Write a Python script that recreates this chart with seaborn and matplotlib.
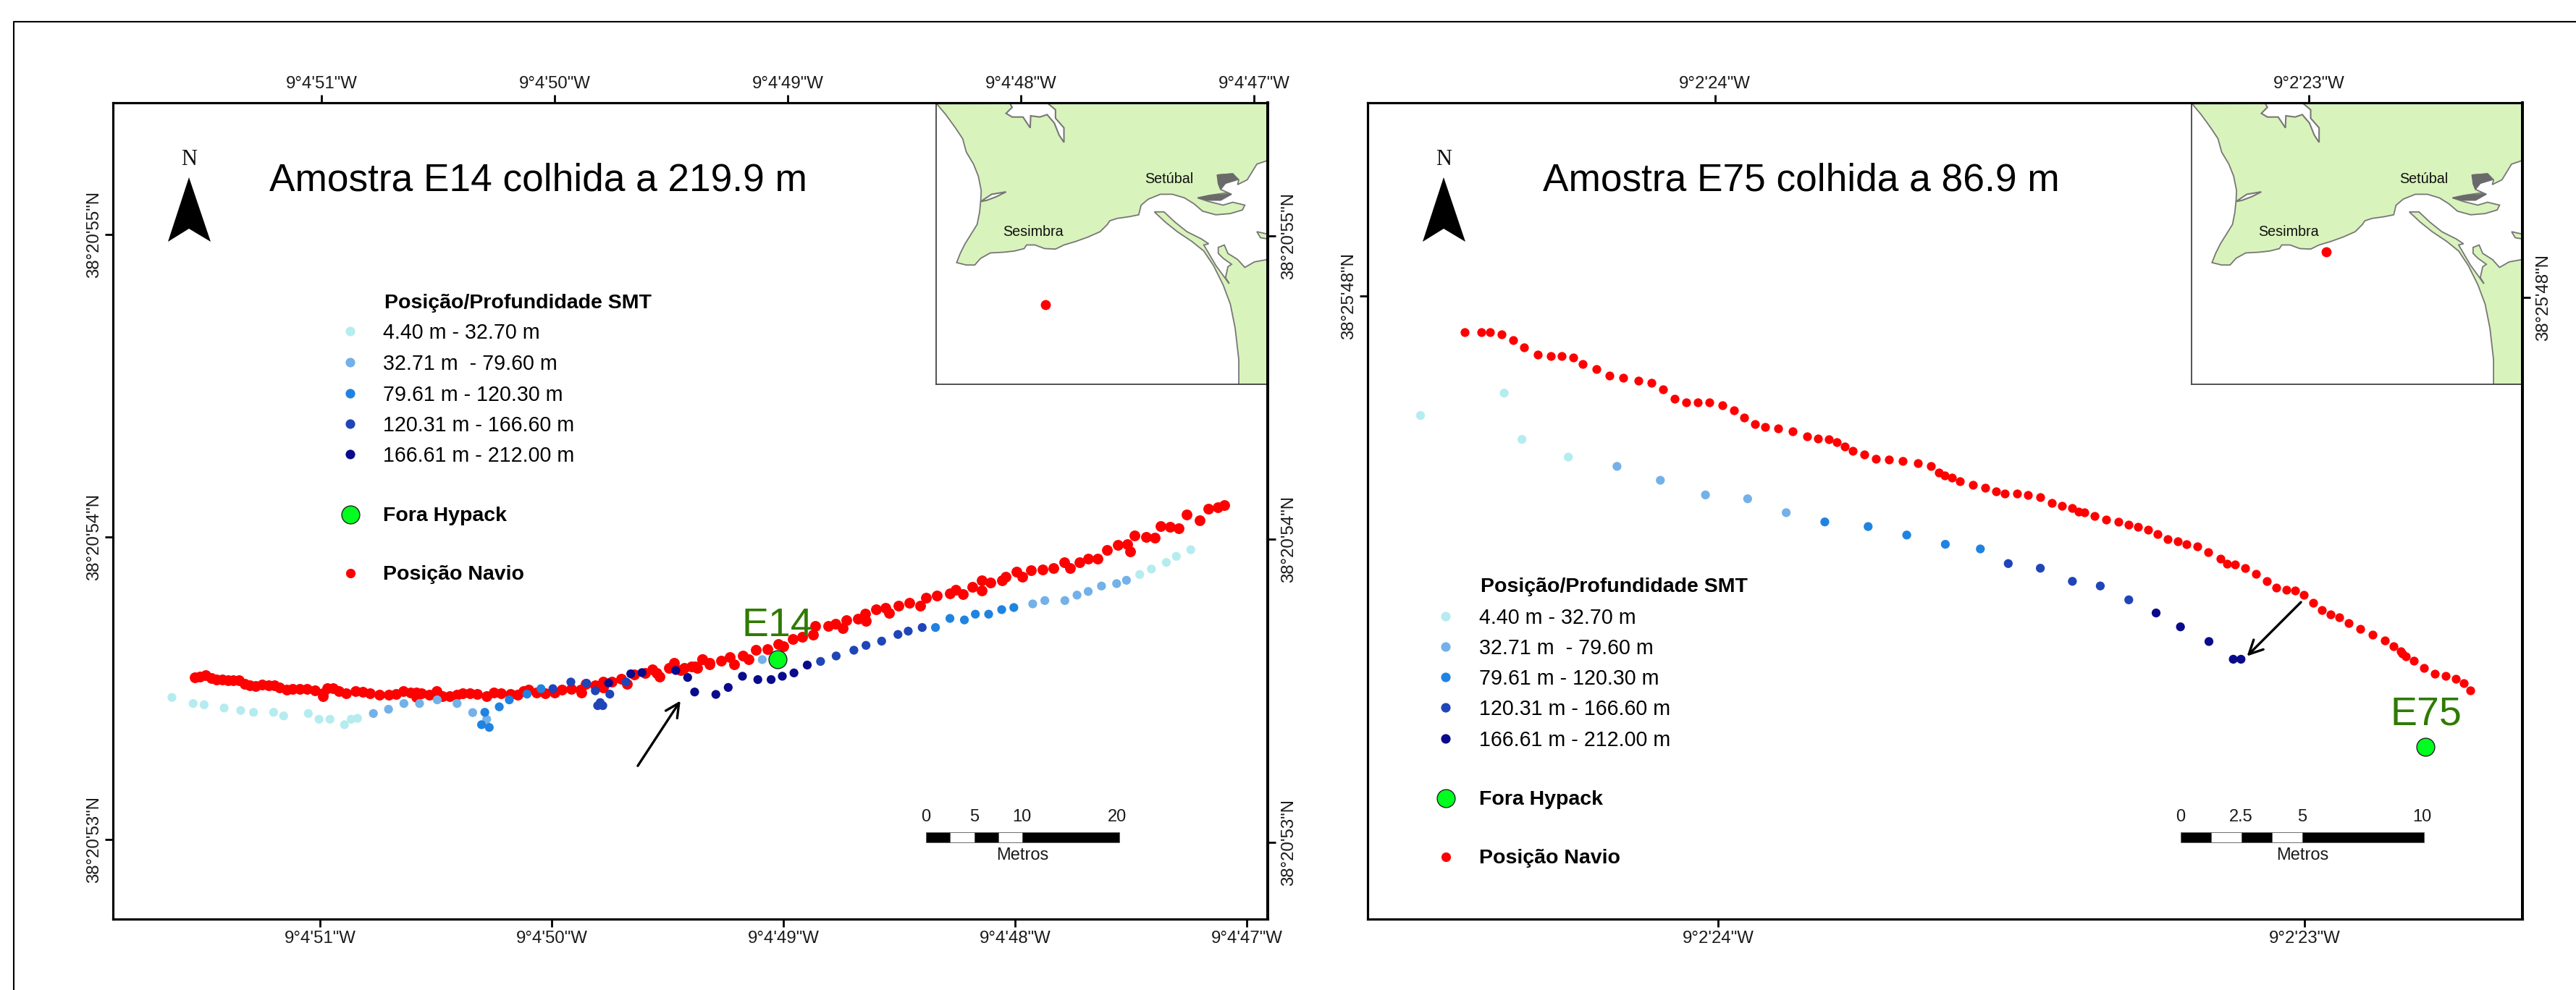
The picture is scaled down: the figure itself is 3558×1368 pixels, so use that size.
# -*- coding: utf-8 -*-
import pandas as pd
import seaborn as sns
import matplotlib.pyplot as plt
from matplotlib.patches import Polygon

W, H = 3558, 1368

# longitudes / latitudes are the seconds of arc inside 9d4'W, 38d20'N (E14) and 9d2'W, 38d25'N (E75)
e14_navio_lon = [51.544, 51.520, 51.497, 51.473, 51.449, 51.425, 51.401, 51.378, 51.354, 51.330, 51.306, 51.283,
                 51.254, 51.227, 51.203, 51.180, 51.148, 51.124, 51.093, 51.061, 51.029, 50.994, 50.993, 50.974,
                 50.950, 50.926, 50.894, 50.855, 50.823, 50.791, 50.752, 50.712, 50.681, 50.649, 50.617, 50.593,
                 50.593, 50.570, 50.538, 50.506, 50.482, 50.451, 50.419, 50.395, 50.364, 50.332, 50.292, 50.261,
                 50.229, 50.189, 50.158, 50.134, 50.110, 50.078, 50.039, 49.999, 49.968, 49.928, 49.888, 49.885,
                 49.865, 49.825, 49.793, 49.793, 49.754, 49.714, 49.690, 49.659, 49.611, 49.579, 49.563, 49.548,
                 49.508, 49.487, 49.460, 49.445, 49.397, 49.365, 49.334, 49.413, 49.389, 49.366, 49.334, 49.286,
                 49.247, 49.231, 49.191, 49.168, 49.136, 49.088, 49.041, 49.017, 48.977, 48.938, 48.890, 48.882,
                 48.827, 48.795, 48.764, 48.748, 48.700, 48.668, 48.664, 48.621, 48.581, 48.565, 48.526, 48.478,
                 48.431, 48.407, 48.359, 48.304, 48.280, 48.249, 48.209, 48.169, 48.169, 48.130, 48.082, 48.066,
                 48.019, 47.995, 47.955, 47.908, 47.860, 47.813, 47.789, 47.749, 47.710, 47.670, 47.631, 47.583,
                 47.543, 47.532, 47.512, 47.464, 47.425, 47.401, 47.361, 47.322, 47.290, 47.234, 47.195, 47.155,
                 47.128]
e14_navio_lat = [53.537, 53.538, 53.543, 53.533, 53.530, 53.530, 53.527, 53.527, 53.527, 53.514, 53.509, 53.508,
                 53.513, 53.509, 53.509, 53.503, 53.495, 53.499, 53.498, 53.499, 53.493, 53.483, 53.475, 53.501,
                 53.501, 53.491, 53.483, 53.491, 53.489, 53.483, 53.479, 53.479, 53.481, 53.491, 53.487, 53.487,
                 53.471, 53.483, 53.479, 53.491, 53.475, 53.473, 53.479, 53.483, 53.483, 53.481, 53.475, 53.487,
                 53.483, 53.481, 53.479, 53.491, 53.495, 53.486, 53.483, 53.486, 53.495, 53.499, 53.495, 53.487,
                 53.515, 53.511, 53.523, 53.503, 53.523, 53.531, 53.515, 53.547, 53.551, 53.563, 53.551, 53.539,
                 53.567, 53.584, 53.559, 53.567, 53.571, 53.595, 53.583, 53.571, 53.567, 53.595, 53.579, 53.591,
                 53.603, 53.579, 53.607, 53.595, 53.626, 53.630, 53.646, 53.638, 53.662, 53.670, 53.678, 53.706,
                 53.706, 53.714, 53.698, 53.726, 53.730, 53.746, 53.722, 53.760, 53.766, 53.750, 53.774, 53.783,
                 53.774, 53.798, 53.806, 53.814, 53.826, 53.810, 53.834, 53.857, 53.822, 53.850, 53.857, 53.869,
                 53.885, 53.869, 53.889, 53.893, 53.897, 53.917, 53.897, 53.917, 53.929, 53.929, 53.957, 53.973,
                 53.977, 53.953, 54.005, 54.001, 53.997, 54.037, 54.033, 54.029, 54.073, 54.054, 54.092, 54.099,
                 54.104]

e14_c0_lon = [51.641, 51.550, 51.503, 51.417, 51.346, 51.291, 51.205, 51.162, 51.056, 51.010, 50.963, 50.901,
              50.872, 50.845, 47.490, 47.440, 47.376, 47.333, 47.271]
e14_c0_lat = [53.470, 53.450, 53.446, 53.435, 53.427, 53.421, 53.421, 53.409, 53.417, 53.398, 53.398, 53.380,
              53.398, 53.401, 53.876, 53.894, 53.916, 53.936, 53.958]
e14_c1_lon = [50.777, 50.712, 50.646, 50.579, 50.503, 50.418, 50.351, 50.291, 49.109, 47.949, 47.897, 47.811,
              47.759, 47.711, 47.654, 47.589, 47.547]
e14_c1_lat = [53.417, 53.431, 53.450, 53.450, 53.462, 53.450, 53.420, 53.398, 53.595, 53.779, 53.790, 53.790,
              53.808, 53.820, 53.838, 53.846, 53.857]
e14_c2_lon = [50.299, 50.313, 50.280, 50.237, 50.194, 50.118, 50.058, 48.366, 48.304, 48.242, 48.195, 48.138,
              48.082, 48.030]
e14_c2_lat = [53.421, 53.380, 53.371, 53.439, 53.462, 53.481, 53.499, 53.701, 53.731, 53.726, 53.745, 53.745,
              53.760, 53.767]
e14_c3_lon = [50.007, 49.930, 49.863, 49.825, 49.763, 49.815, 49.793, 49.804, 49.693, 48.859, 48.792, 48.716,
              48.664, 48.597, 48.527, 48.483, 48.423]
e14_c3_lat = [53.499, 53.521, 53.517, 53.492, 53.481, 53.443, 53.443, 53.453, 53.521, 53.589, 53.607, 53.626,
              53.642, 53.656, 53.678, 53.689, 53.701]
e14_c4_lon = [49.768, 49.673, 49.625, 49.480, 49.429, 49.399, 49.308, 49.255, 49.194, 49.128, 49.071, 49.023,
              48.973, 48.916]
e14_c4_lat = [53.518, 53.548, 53.552, 53.559, 53.536, 53.488, 53.480, 53.503, 53.540, 53.529, 53.529, 53.540,
              53.551, 53.577]
e14_amostra = (49.044, 53.595)

e75_navio_lon = [24.421, 24.393, 24.379, 24.359, 24.340, 24.321, 24.299, 24.277, 24.258, 24.239, 24.223, 24.200,
                 24.178, 24.154, 24.129, 24.107, 24.088, 24.068, 24.049, 24.029, 24.009, 23.988, 23.968, 23.951,
                 23.933, 23.915, 23.893, 23.869, 23.845, 23.826, 23.808, 23.795, 23.782, 23.768, 23.749, 23.729,
                 23.707, 23.684, 23.658, 23.636, 23.623, 23.613, 23.601, 23.587, 23.566, 23.545, 23.527, 23.512,
                 23.491, 23.473, 23.452, 23.433, 23.415, 23.398, 23.387, 23.378, 23.361, 23.341, 23.320, 23.303,
                 23.287, 23.270, 23.254, 23.238, 23.221, 23.206, 23.188, 23.169, 23.149, 23.138, 23.124, 23.107,
                 23.089, 23.071, 23.054, 23.037, 23.023, 23.008, 22.993, 22.978, 22.963, 22.948, 22.933, 22.913,
                 22.892, 22.872, 22.857, 22.845, 22.842, 22.836, 22.823, 22.806, 22.788, 22.769, 22.752, 22.739,
                 22.728]
e75_navio_lat = [47.955, 47.955, 47.955, 47.952, 47.945, 47.935, 47.926, 47.924, 47.924, 47.922, 47.914, 47.907,
                 47.899, 47.896, 47.892, 47.889, 47.881, 47.869, 47.864, 47.864, 47.864, 47.860, 47.854, 47.844,
                 47.836, 47.832, 47.830, 47.826, 47.820, 47.817, 47.816, 47.812, 47.807, 47.801, 47.796, 47.791,
                 47.790, 47.788, 47.785, 47.781, 47.773, 47.769, 47.766, 47.762, 47.757, 47.753, 47.749, 47.746,
                 47.746, 47.744, 47.741, 47.734, 47.730, 47.727, 47.722, 47.721, 47.717, 47.712, 47.709, 47.705,
                 47.703, 47.699, 47.693, 47.687, 47.684, 47.680, 47.677, 47.670, 47.661, 47.655, 47.654, 47.649,
                 47.642, 47.632, 47.624, 47.621, 47.620, 47.614, 47.604, 47.595, 47.589, 47.585, 47.578, 47.570,
                 47.563, 47.555, 47.548, 47.541, 47.538, 47.535, 47.529, 47.520, 47.512, 47.509, 47.506, 47.500,
                 47.491]

e75_c0_lon = [24.496, 24.355, 24.325, 24.247]
e75_c0_lat = [47.847, 47.876, 47.816, 47.793]
e75_c1_lon = [24.165, 24.092, 24.016, 23.945, 23.880]
e75_c1_lat = [47.781, 47.763, 47.744, 47.739, 47.721]
e75_c2_lon = [23.815, 23.742, 23.677, 23.612, 23.553]
e75_c2_lat = [47.709, 47.703, 47.692, 47.680, 47.674]
e75_c3_lon = [23.506, 23.452, 23.398, 23.351, 23.303]
e75_c3_lat = [47.655, 47.649, 47.632, 47.626, 47.608]
e75_c4_lon = [23.257, 23.216, 23.168, 23.127, 23.114]
e75_c4_lat = [47.591, 47.573, 47.554, 47.531, 47.531]
e75_amostra = (22.803, 47.417)

classes = ["4.40 m - 32.70 m", "32.71 m  - 79.60 m", "79.61 m - 120.30 m", "120.31 m - 166.60 m", "166.61 m - 212.00 m"]
class_colors = ["#b5ecef", "#73b1e8", "#1f83e2", "#1f45b8", "#0a0a8c"]

# inset map outline, in the inset's own grid
land_x = [72, 110, 150, 180, 195, 225, 245, 257, 255, 250, 240, 215, 190, 170, 155, 195, 230, 255, 295, 350, 395, 435,
          445, 480, 520, 565, 600, 650, 700, 750, 780, 790, 820, 870, 910, 920, 950, 1000, 1050, 1100, 1140, 1175,
          1230, 1290, 1340, 1350, 1300, 1260, 1200, 1155, 1200, 1270, 1295, 1250, 1240, 1240, 1300, 1325, 1320, 1360,
          1400, 1445, 1445]
land_y = [70, 115, 170, 215, 270, 320, 370, 430, 470, 520, 570, 610, 650, 690, 728, 738, 738, 710, 688, 685, 680, 670,
          655, 655, 670, 672, 655, 640, 622, 600, 570, 555, 545, 538, 530, 490, 465, 445, 445, 460, 485, 515,
          530, 525, 510, 490, 478, 490, 475, 460, 450, 440, 445, 425, 400, 365, 360, 385, 405, 385,
          320, 305, 66]
south_x = [1325, 1325, 1310, 1290, 1260, 1220, 1180, 1130, 1070, 1020, 975, 1015, 1060, 1110, 1170, 1200, 1180, 1230,
           1285, 1270, 1280, 1295, 1260, 1240, 1240, 1265, 1280, 1320, 1350, 1390, 1445, 1445]
south_y = [1232, 1130, 1000, 900, 820, 740, 680, 640, 600, 560, 518, 518, 560, 600, 630, 650, 655, 740,
           815, 790, 745, 735, 710, 690, 665, 655, 690, 715, 748, 725, 715, 1232]
tagus_x = [375, 385, 360, 385, 430, 460, 462, 500, 530, 560, 580, 600, 600, 565, 565, 530]
tagus_y = [66, 85, 110, 125, 125, 170, 120, 125, 115, 150, 200, 230, 170, 130, 95, 66]
lagoon_x = [255, 300, 360, 320, 280]
lagoon_y = [475, 445, 435, 455, 470]
islet_x = [1400, 1445, 1445, 1415]
islet_y = [600, 610, 630, 625]
marsh_a_x = [1155, 1220, 1295, 1250, 1200]
marsh_a_y = [460, 448, 445, 470, 470]
marsh_b_x = [1235, 1300, 1320, 1270, 1250, 1240]
marsh_b_y = [365, 360, 385, 400, 425, 400]
inset_towns = ["Sesimbra", "Setúbal"]
inset_towns_x = [473, 1036]
inset_towns_y = [600, 383]

# scale bar breaks in metres
scale_e14 = [0, 2.5, 5, 7.5, 10, 20]
scale_e75 = [0, 1.25, 2.5, 3.75, 5, 10]

sns.set_theme(style="white")
plt.rcParams["font.family"] = ["Liberation Sans", "DejaVu Sans"]

fig = plt.figure(figsize=(W / 100, H / 100), dpi=100)
TXT = "#1a1a1a"
SAMPLE_GREEN = "#2f7a00"


def box(x0, y0, x1, y1):
    return [x0 / W, 1 - y1 / H, (x1 - x0) / W, (y1 - y0) / H]


def depth_frame(lons, lats):
    rows = []
    for name, lo, la in zip(classes, lons, lats):
        rows.append(pd.DataFrame({"lon": lo, "lat": la, "classe": name}))
    return pd.concat(rows, ignore_index=True)


def draw_inset(rect, dot):
    ins = fig.add_axes(box(*rect), zorder=1)
    ins.set_xlim(70, 1445)
    ins.set_ylim(1232, 66)
    for side in ["top", "right"]:
        ins.spines[side].set_visible(False)
    for side in ["left", "bottom"]:
        ins.spines[side].set_color("#444444")
        ins.spines[side].set_linewidth(1.3)
    for xs, ys in [(land_x, land_y), (south_x, south_y), (islet_x, islet_y)]:
        ins.fill(xs, ys, facecolor="#d9f3bc", edgecolor="#777777", linewidth=1.3)
    for xs, ys in [(tagus_x, tagus_y), (lagoon_x, lagoon_y)]:
        ins.fill(xs, ys, facecolor="white", edgecolor="#777777", linewidth=1.5)
    for xs, ys in [(marsh_a_x, marsh_a_y), (marsh_b_x, marsh_b_y)]:
        ins.fill(xs, ys, facecolor="#6a6a6a", edgecolor="#6a6a6a", linewidth=1)
    sns.scatterplot(x=[dot[0]], y=[dot[1]], color="#ff0000", s=100, linewidth=0, ax=ins, legend=False)
    ins.set_xticks([])
    ins.set_yticks([])
    ins.set_xlabel("")
    ins.set_ylabel("")
    for name, x, y in zip(inset_towns, inset_towns_x, inset_towns_y):
        ins.text(x, y, name, fontsize=14.2, color="#111111", ha="center", va="center")


def draw_panel(rect, xlim, ylim, bottom_ticks, top_ticks, left_ticks, right_ticks, xlabels, ylabels,
               navio, navio_s, depths, amostra, label, label_xy, arrow, scale, scale_k, scale_xy):
    ax = fig.add_axes(box(*rect), zorder=2)
    ax.patch.set_visible(False)
    sns.scatterplot(x=navio[0], y=navio[1], color="#ff0000", s=navio_s, linewidth=0, ax=ax, legend=False)
    df = depth_frame(*depths)
    sns.scatterplot(data=df, x="lon", y="lat", hue="classe", hue_order=classes, palette=class_colors,
                    s=78, linewidth=0, ax=ax, legend=False)
    sns.scatterplot(x=[amostra[0]], y=[amostra[1]], color="#00ff1e", s=320, edgecolor="#222222", linewidth=1,
                    ax=ax, legend=False, zorder=4)
    ax.text(label_xy[0], label_xy[1], label, fontsize=40, color=SAMPLE_GREEN, ha="center", va="center", zorder=5)
    ax.annotate("", xy=arrow[1], xytext=arrow[0],
                arrowprops=dict(arrowstyle="->", color="black", lw=2.4, mutation_scale=34, shrinkA=0, shrinkB=0))

    # scale bar, break by break
    sx, sy, sh = scale_xy
    for i in range(len(scale) - 1):
        ax.barh(sy, -(scale[i + 1] - scale[i]) * scale_k, left=sx - scale[i] * scale_k, height=sh,
                color="black" if i % 2 == 0 else "white", edgecolor="#555555", linewidth=0.6)

    ax.set_xlim(*xlim)
    ax.set_ylim(*ylim)
    ax.set_xlabel("")
    ax.set_ylabel("")
    ax.set_xticks(bottom_ticks, xlabels)
    ax.set_yticks(left_ticks, ylabels)
    ax.tick_params(axis="x", bottom=True, length=8, width=2, pad=3.5, labelsize=17.3, labelcolor=TXT, color="black")
    ax.tick_params(axis="y", left=True, length=8, width=2, pad=3, labelsize=17.3, labelcolor=TXT, color="black")
    for t in ax.get_yticklabels():
        t.set_rotation(90)
        t.set_va("center")

    top = ax.twiny()
    top.set_xlim(*xlim)
    top.set_xticks(top_ticks, xlabels)
    top.tick_params(axis="x", top=True, length=8, width=2, pad=2.8, labelsize=17.3, labelcolor=TXT, color="black")
    right = ax.twinx()
    right.set_ylim(*ylim)
    right.set_yticks(right_ticks, ylabels)
    right.tick_params(axis="y", right=True, length=8, width=2, pad=5, labelsize=17.3, labelcolor=TXT, color="black")
    for t in right.get_yticklabels():
        t.set_rotation(90)
        t.set_va("center")
    for a in [ax, top, right]:
        for side in ["top", "bottom", "left"]:
            a.spines[side].set_color("black")
            a.spines[side].set_linewidth(2.2)
            a.spines[side].set_visible(True)
        a.spines["right"].set_color("black")
        a.spines["right"].set_linewidth(2.8)
        a.spines["right"].set_visible(True)
    return ax


draw_inset((1293, 142, 1751, 531), (523, 903))
draw_inset((3027, 142, 3484, 531), (630, 683))

draw_panel((156, 142, 1751, 1270), (51.894, 46.941), (52.738, 55.434),
           [51.006, 50.012, 49.019, 48.025, 47.031], [51, 50, 49, 48, 47],
           [55, 54, 53], [54.994, 53.993, 52.992],
           ["9°4'51\"W", "9°4'50\"W", "9°4'49\"W", "9°4'48\"W", "9°4'47\"W"],
           ["38°20'55\"N", "38°20'54\"N", "38°20'53\"N"],
           (e14_navio_lon, e14_navio_lat), 115,
           ([e14_c0_lon, e14_c1_lon, e14_c2_lon, e14_c3_lon, e14_c4_lon],
            [e14_c0_lat, e14_c1_lat, e14_c2_lat, e14_c3_lat, e14_c4_lat]),
           e14_amostra, "E14", (49.043, 53.706), ((49.643, 53.244), (49.460, 53.459)),
           scale_e14, 0.04146, (48.407, 53.008, 0.0335))

draw_panel((1889, 142, 3484, 1270), (24.585, 22.640), (47.1942, 48.2523),
           [23.995, 23.007], [24, 23], [48.002], [48],
           ["9°2'24\"W", "9°2'23\"W"], ["38°25'48\"N"],
           (e75_navio_lon, e75_navio_lat), 78,
           ([e75_c0_lon, e75_c1_lon, e75_c2_lon, e75_c3_lon, e75_c4_lon],
            [e75_c0_lat, e75_c1_lat, e75_c2_lat, e75_c3_lat, e75_c4_lat]),
           e75_amostra, "E75", (22.802, 47.4595), ((23.013, 47.605), (23.104, 47.535)),
           scale_e75, 0.04098, (23.216, 47.300, 0.0131))

# page layer in picture pixels: frame, north arrows, titles, legends
ov = fig.add_axes([0, 0, 1, 1], zorder=5)
ov.axis("off")
ov.plot([19, 19, W], [H, 30, 30], color="black", lw=1.5)


def north(dx):
    ov.add_patch(Polygon([(261 + dx, 245), (291 + dx, 334), (261 + dx, 316), (232 + dx, 334)], closed=True,
                         facecolor="black", edgecolor="none"))
    ov.text(261 + dx, 220, "N", family="Liberation Serif", fontsize=22, color="#111111", ha="center", va="center")


def legend_block(key_x, text_x, head_y, rows_y, hypack_y, navio_y):
    ov.text(text_x + 2, head_y, "Posição/Profundidade SMT", fontsize=20.5, fontweight="bold", color="black",
            ha="left", va="center")
    sns.scatterplot(x=[key_x] * 5, y=rows_y, hue=classes, hue_order=classes, palette=class_colors, s=90,
                    linewidth=0, ax=ov, legend=False)
    for name, y in zip(classes, rows_y):
        ov.text(text_x, y + 2, name, fontsize=20.6, color="black", ha="left", va="center")
    sns.scatterplot(x=[key_x], y=[hypack_y], color="#00ff1e", s=320, edgecolor="#222222", linewidth=1, ax=ov,
                    legend=False)
    ov.text(text_x, hypack_y + 2, "Fora Hypack", fontsize=20.5, fontweight="bold", color="black", ha="left", va="center")
    sns.scatterplot(x=[key_x], y=[navio_y], color="#ff0000", s=90, linewidth=0, ax=ov, legend=False)
    ov.text(text_x, navio_y + 2, "Posição Navio", fontsize=20.5, fontweight="bold", color="black", ha="left", va="center")


def scale_labels(labels, xs, mid):
    for name, x in zip(labels, xs):
        ov.text(x, 1129, name, fontsize=17, color=TXT, ha="center", va="center")
    ov.text(mid, 1182, "Metros", fontsize=17, color=TXT, ha="center", va="center")


north(0)
north(1733)
ov.text(372, 250, "Amostra E14 colhida a 219.9 m", fontsize=38.3, color="black", ha="left", va="center")
ov.text(2131, 249, "Amostra E75 colhida a 86.9 m", fontsize=38.3, color="black", ha="left", va="center")
legend_block(484, 529, 419, [458, 501, 544, 586, 628], 711, 792)
legend_block(1997, 2043, 811, [852, 894, 936, 978, 1021], 1103, 1184)
scale_labels(["0", "5", "10", "20"], [1279, 1346, 1411, 1543], 1412)
scale_labels(["0", "2.5", "5", "10"], [3012, 3095, 3180, 3345], 3180)
ov.set_xlim(0, W)
ov.set_ylim(H, 0)
ov.set_xlabel("")
ov.set_ylabel("")

fig.savefig("out.png", dpi=100)
